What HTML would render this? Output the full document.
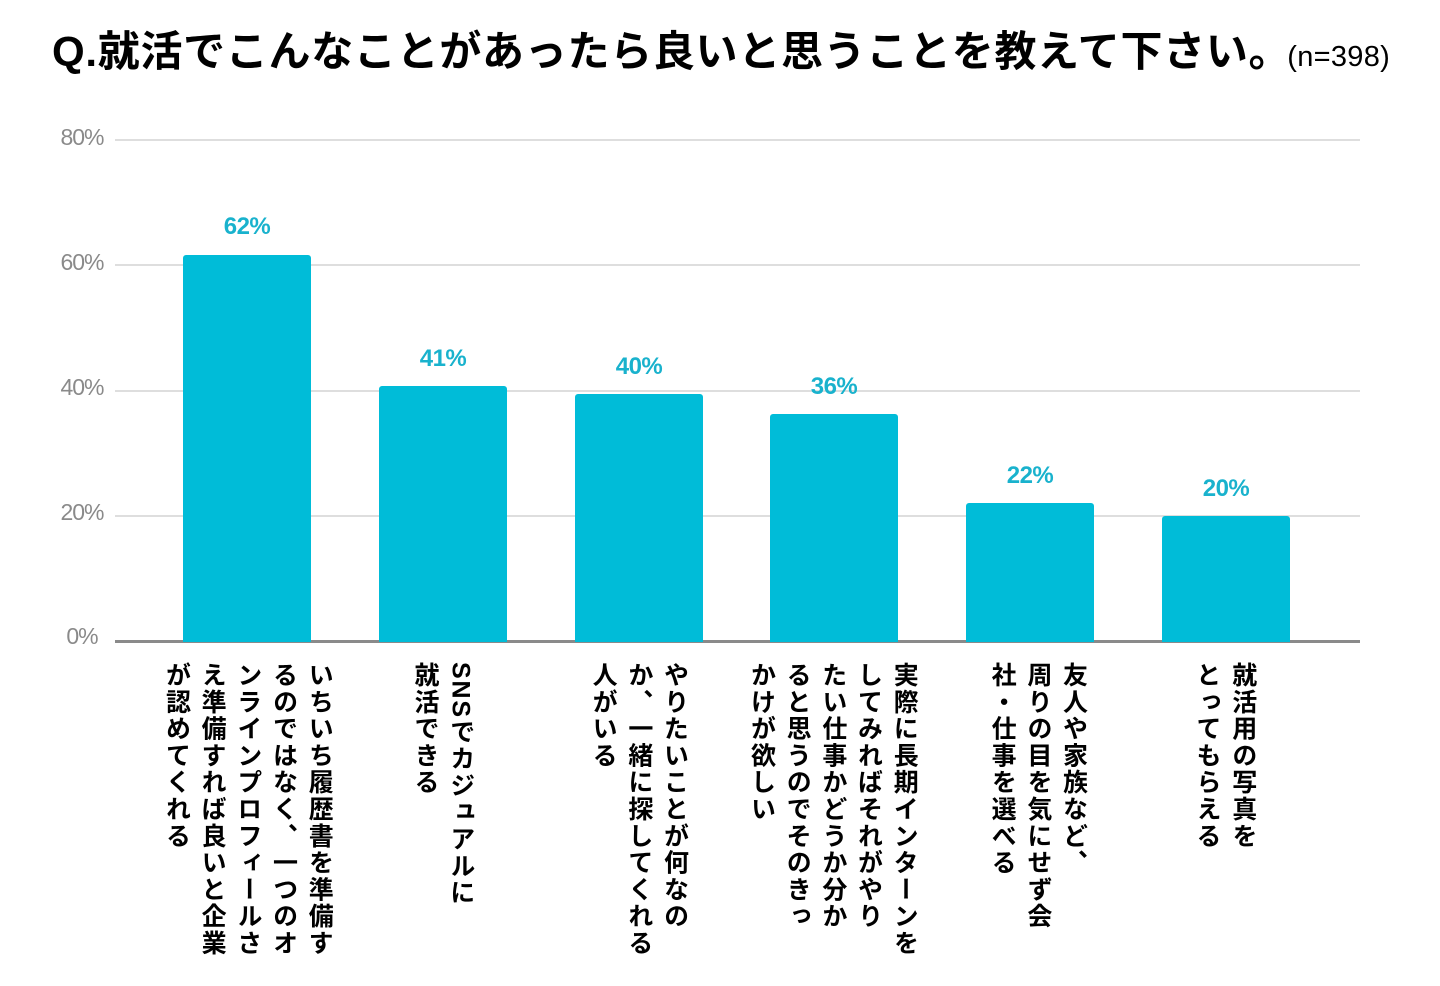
<!DOCTYPE html>
<html lang="ja">
<head>
<meta charset="utf-8">
<style>
  html, body { margin:0; padding:0; background:#fff; }
  body { width:1440px; height:986px; position:relative; overflow:hidden;
         font-family:"Liberation Sans","Noto Sans CJK JP",sans-serif; }
  .title { position:absolute; left:52px; top:28px; white-space:nowrap;
           font-size:42px; line-height:48px; font-weight:700; color:#000; letter-spacing:0.7px; }
  .title .n { font-size:29px; font-weight:400; margin-left:-4px; letter-spacing:0.3px; }
  .grid { position:absolute; left:115px; width:1245px; height:2px; background:#dedede; }
  .base { position:absolute; left:115px; width:1245px; top:640px; height:3px; background:#8a8a8a; }
  .ylab { position:absolute; width:60px; left:52px; text-align:center; font-size:23px; line-height:24px;
          color:#8a8a8a; letter-spacing:-1px; }
  .bar { position:absolute; width:128px; background:#00bcd8; border-radius:3px 3px 0 0; }
  .val { position:absolute; width:128px; text-align:center; font-size:24px; line-height:24px;
         font-weight:700; color:#19b2cd; letter-spacing:-0.5px; }
  .cat { position:absolute; top:662px; writing-mode:vertical-rl; text-orientation:mixed;
         font-size:25px; line-height:35.7px; letter-spacing:1.8px; color:#000; font-weight:700;
         transform:translateX(-50%); white-space:nowrap; }
</style>
</head>
<body>
  <div class="title">Q.就活でこんなことがあったら良いと思うことを教えて下さい。<span class="n">(n=398)</span></div>

  <div class="grid" style="top:139px"></div>
  <div class="grid" style="top:264px"></div>
  <div class="grid" style="top:390px"></div>
  <div class="grid" style="top:515px"></div>
  <div class="base"></div>

  <div class="ylab" style="top:125px">80%</div>
  <div class="ylab" style="top:250px">60%</div>
  <div class="ylab" style="top:375px">40%</div>
  <div class="ylab" style="top:500px">20%</div>
  <div class="ylab" style="top:624px">0%</div>

  <div class="bar" style="left:183px; top:255px; height:387px"></div>
  <div class="bar" style="left:379px; top:386px; height:256px"></div>
  <div class="bar" style="left:575px; top:394px; height:248px"></div>
  <div class="bar" style="left:770px; top:414px; height:228px"></div>
  <div class="bar" style="left:966px; top:503px; height:139px"></div>
  <div class="bar" style="left:1162px; top:516px; height:126px"></div>

  <div class="val" style="left:183px; top:215px">62%</div>
  <div class="val" style="left:379px; top:347px">41%</div>
  <div class="val" style="left:575px; top:355px">40%</div>
  <div class="val" style="left:770px; top:375px">36%</div>
  <div class="val" style="left:966px; top:464px">22%</div>
  <div class="val" style="left:1162px; top:477px">20%</div>

  <div class="cat" style="left:247px">いちいち履歴書を準備す<br>るのではなく、一つのオ<br>ンラインプロフィールさ<br>え準備すれば良いと企業<br>が認めてくれる</div>
  <div class="cat" style="left:442px">SNSでカジュアルに<br>就活できる</div>
  <div class="cat" style="left:638px">やりたいことが何なの<br>か、一緒に探してくれる<br>人がいる</div>
  <div class="cat" style="left:832px">実際に長期インターンを<br>してみればそれがやり<br>たい仕事かどうか分か<br>ると思うのでそのきっ<br>かけが欲しい</div>
  <div class="cat" style="left:1037px">友人や家族など、<br>周りの目を気にせず会<br>社・仕事を選べる</div>
  <div class="cat" style="left:1224px">就活用の写真を<br>とってもらえる</div>
</body>
</html>
